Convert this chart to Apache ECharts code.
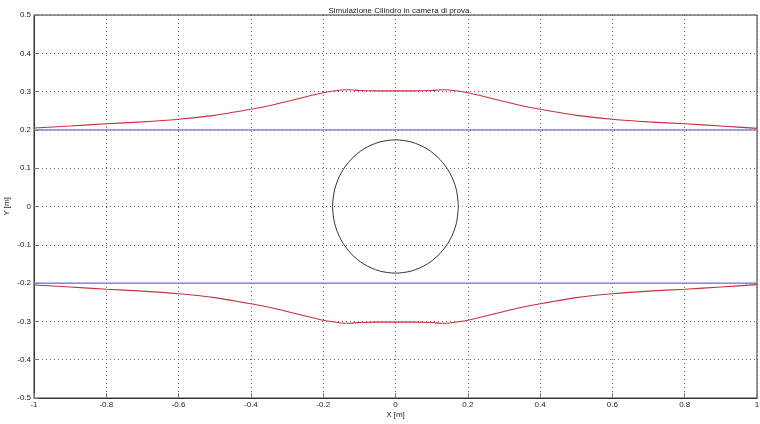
<!DOCTYPE html>
<html>
<head>
<meta charset="utf-8">
<script src="https://cdn.jsdelivr.net/npm/echarts@6/dist/echarts.min.js"></script>
<style>html,body{margin:0;padding:0;background:#fff;}#c{width:760px;height:424px;}</style>
</head>
<body>
<div id="c"></div>
<script>
var titleText = 'Simulazione Cilindro in camera di prova.';
var xName = 'X [m]';
var yName = 'Y [m]';

var wallX = [-1, 1];
var wallTopY = [0.2, 0.2];
var wallBotY = [-0.2, -0.2];

var upperX = [-1, -0.9, -0.8, -0.7, -0.6, -0.5, -0.4, -0.35, -0.3, -0.25, -0.2, -0.15, -0.13, -0.1, -0.05, 0, 0.05, 0.1, 0.13, 0.15, 0.2, 0.25, 0.3, 0.35, 0.4, 0.5, 0.6, 0.7, 0.8, 0.9, 1];
var upperY = [0.205, 0.210, 0.216, 0.221, 0.228, 0.238, 0.254, 0.263, 0.274, 0.286, 0.297, 0.304, 0.305, 0.303, 0.302, 0.302, 0.302, 0.303, 0.305, 0.304, 0.297, 0.286, 0.274, 0.263, 0.254, 0.238, 0.228, 0.221, 0.216, 0.210, 0.204];

var lowerX = [-1, -0.9, -0.8, -0.7, -0.6, -0.5, -0.4, -0.35, -0.3, -0.25, -0.2, -0.15, -0.13, -0.1, -0.05, 0, 0.05, 0.1, 0.13, 0.15, 0.2, 0.25, 0.3, 0.35, 0.4, 0.5, 0.6, 0.7, 0.8, 0.9, 1];
var lowerY = [-0.205, -0.210, -0.216, -0.221, -0.228, -0.238, -0.254, -0.263, -0.274, -0.286, -0.297, -0.304, -0.305, -0.303, -0.302, -0.302, -0.302, -0.303, -0.305, -0.304, -0.297, -0.286, -0.274, -0.263, -0.254, -0.238, -0.228, -0.221, -0.216, -0.210, -0.204];

var circleX = [0.174, 0.1681, 0.1507, 0.1230, 0.0870, 0.0450, 0, -0.0450, -0.0870, -0.1230, -0.1507, -0.1681, -0.174, -0.1681, -0.1507, -0.1230, -0.0870, -0.0450, 0, 0.0450, 0.0870, 0.1230, 0.1507, 0.1681, 0.174];
var circleY = [0, 0.0450, 0.0870, 0.1230, 0.1507, 0.1681, 0.174, 0.1681, 0.1507, 0.1230, 0.0870, 0.0450, 0, -0.0450, -0.0870, -0.1230, -0.1507, -0.1681, -0.174, -0.1681, -0.1507, -0.1230, -0.0870, -0.0450, 0];

function pairs(xs, ys) { return xs.map(function (x, i) { return [x, ys[i]]; }); }

var font = 'Liberation Sans, Arial, sans-serif';
var labelStyle = { color: '#222', fontSize: 8, fontFamily: font };
var chart = echarts.init(document.getElementById('c'), null, { renderer: 'canvas' });
chart.setOption({
  animation: false,
  backgroundColor: '#fff',
  title: {
    text: titleText, left: 395, top: 2, textAlign: 'center',
    textStyle: { fontSize: 8, fontWeight: 'normal', color: '#222', fontFamily: font }
  },
  grid: { left: 34, right: 3, top: 15, bottom: 26, containLabel: false, outerBoundsMode: 'none', show: true, borderColor: '#333', borderWidth: 1, backgroundColor: '#fff' },
  xAxis: {
    type: 'value', min: -1, max: 1, interval: 0.2,
    name: xName, nameLocation: 'middle', nameGap: 13, nameMoveOverlap: false,
    nameTextStyle: labelStyle,
    axisLine: { show: true, onZero: false, lineStyle: { color: '#333' } },
    axisTick: { show: true, inside: true, length: 5, lineStyle: { color: '#777' } },
    axisLabel: Object.assign({ margin: 3, showMinLabel: true, showMaxLabel: true }, labelStyle),
    splitLine: { show: true, lineStyle: { type: [1, 3], color: '#666', width: 1 } }
  },
  yAxis: {
    type: 'value', min: -0.5, max: 0.5, interval: 0.1,
    name: yName, nameLocation: 'middle', nameGap: 23, nameRotate: 90, nameMoveOverlap: false,
    nameTextStyle: labelStyle,
    axisLine: { show: true, onZero: false, lineStyle: { color: '#333' } },
    axisTick: { show: true, inside: true, length: 5, lineStyle: { color: '#777' } },
    axisLabel: Object.assign({ margin: 3, showMinLabel: true, showMaxLabel: true }, labelStyle),
    splitLine: { show: true, lineStyle: { type: [1, 3], color: '#666', width: 1 } }
  },
  series: [
    { type: 'line', data: pairs(wallX, wallTopY), showSymbol: false, lineStyle: { color: '#7373dc', width: 1.3 }, z: 3 },
    { type: 'line', data: pairs(wallX, wallBotY), showSymbol: false, lineStyle: { color: '#7373dc', width: 1.3 }, z: 3 },
    { type: 'line', data: pairs(upperX, upperY), showSymbol: false, smooth: 0.2, lineStyle: { color: '#c9303c', width: 1.1 }, z: 4 },
    { type: 'line', data: pairs(lowerX, lowerY), showSymbol: false, smooth: 0.2, lineStyle: { color: '#c9303c', width: 1.1 }, z: 4 },
    { type: 'line', data: pairs(circleX, circleY), showSymbol: false, smooth: 0.3, lineStyle: { color: '#333', width: 1 }, z: 4 }
  ]
});
</script>
</body>
</html>
